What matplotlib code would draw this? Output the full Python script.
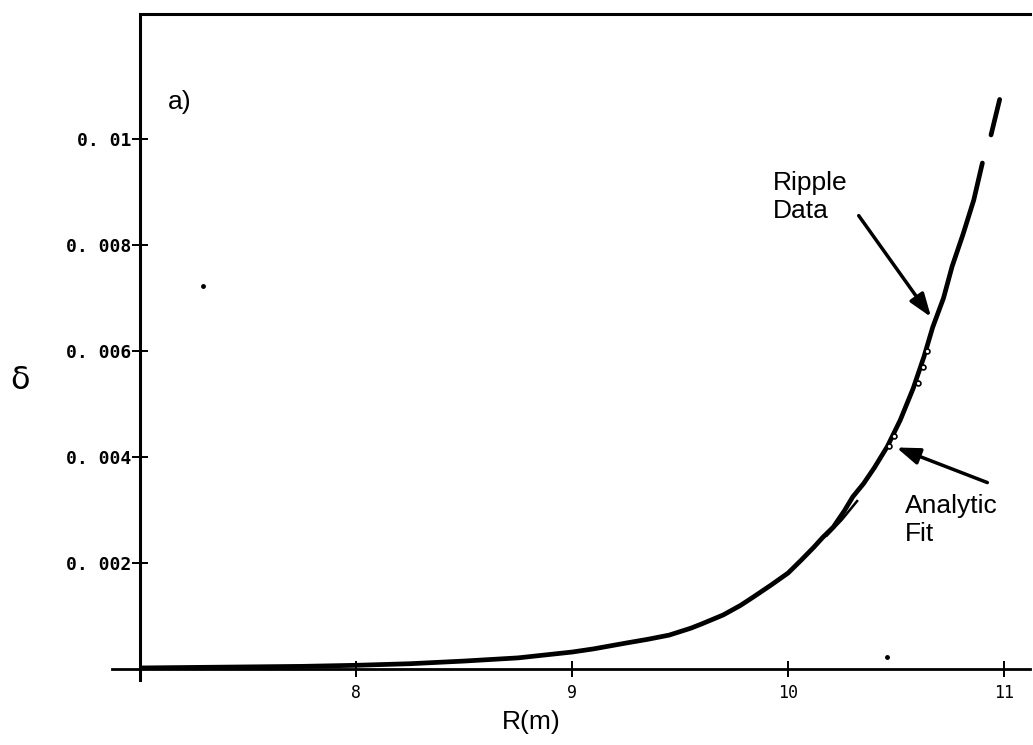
import matplotlib.pyplot as plt
import numpy as np

# ripple data, nan = gap in the trace
r_data = [7.0, 7.25, 7.5, 7.75, 8.0, 8.25, 8.5, 8.75, 9.0, 9.1, 9.25, 9.35, 9.45,
          9.55, 9.6, 9.7, 9.78, 9.84, 9.92, 10.0, 10.06, 10.12, 10.16, 10.21, 10.26,
          10.3, 10.35, 10.4, 10.46, 10.52, 10.58, 10.63, 10.67, 10.72, 10.76, 10.81,
          10.86, 10.9, np.nan, 10.94, 10.98]
d_data = [0.00002, 0.00003, 0.00004, 0.00005, 0.00007, 0.00010, 0.00015, 0.00021,
          0.00032, 0.00038, 0.00049, 0.00056, 0.00064, 0.00077, 0.00085, 0.00102,
          0.0012, 0.00136, 0.00158, 0.00181, 0.00205, 0.0023, 0.00248, 0.00268,
          0.00298, 0.00325, 0.0035, 0.0038, 0.0042, 0.0047, 0.0053, 0.0059, 0.00645,
          0.0070, 0.0076, 0.0082, 0.00885, 0.00955, np.nan, 0.01008, 0.01075]

# analytic fit, visible where it leaves the data trace
r_fit = [10.18, 10.25, 10.32]
d_fit = [0.00252, 0.00282, 0.00317]
r_circ = [10.47, 10.49, 10.6, 10.625, 10.645]
d_circ = [0.0042, 0.0044, 0.0054, 0.0057, 0.0060]

# stray points
r_stray = [7.29, 10.46]
d_stray = [0.00723, 0.00023]

yticks = [0.002, 0.004, 0.006, 0.008, 0.01]
ylabels = ['0. 002', '0. 004', '0. 006', '0. 008', '0. 01']
xticks = [8, 9, 10, 11]

fig = plt.figure(figsize=(10.33, 7.45), dpi=100)
ax = fig.add_axes([0.1355, 0.102, 0.8615, 0.879])

ax.plot(r_data, d_data, color='black', lw=3.4, solid_capstyle='round')
ax.plot(r_fit, d_fit, color='black', lw=1.8)
ax.plot(r_circ, d_circ, 'o', mfc='white', mec='black', ms=3.5, mew=1.2)
ax.plot(r_stray, d_stray, 'o', color='black', ms=2.5)

ax.set_xlim(7.0, 11.12)
ax.set_ylim(0, 0.01236)

# bottom axis line runs a little past the left spine
ax.plot([6.87, 11.12], [0, 0], color='black', lw=2, clip_on=False)
ax.spines['bottom'].set_visible(False)
ax.spines['right'].set_visible(False)
ax.spines['left'].set_linewidth(2.2)
ax.spines['top'].set_linewidth(2.2)
ax.spines['left'].set_bounds(-0.0002, 0.0123)

ax.set_xticks(xticks)
ax.set_xticklabels([str(t) for t in xticks], family='DejaVu Sans Mono', fontsize=12)
ax.set_yticks(yticks)
ax.set_yticklabels(ylabels, family='DejaVu Sans Mono', fontsize=13, fontweight='bold')
ax.tick_params(axis='both', direction='inout', length=11, width=1.4)
ax.tick_params(axis='y', pad=1)
ax.tick_params(axis='x', pad=5)

ax.set_xlabel('R(m)', fontsize=19, family='Liberation Sans', va='center')
ax.xaxis.set_label_coords(0.44, -0.081)
ax.set_ylabel('δ', fontsize=23, family='DejaVu Sans', rotation=0, va='center', ha='center')
ax.yaxis.set_label_coords(-0.135, 0.44)

ax.text(7.13, 0.0107, 'a)', fontsize=19, family='Liberation Sans', va='center')
ax.text(9.93, 0.0094, 'Ripple\nData', fontsize=19, family='Liberation Sans',
        linespacing=1.2, va='top')
ax.text(10.54, 0.0033, 'Analytic\nFit', fontsize=19, family='Liberation Sans',
        linespacing=1.2, va='top')

ax.annotate('', xy=(10.67, 0.0066), xytext=(10.32, 0.0086),
            arrowprops=dict(arrowstyle='-|>,head_length=1.4,head_width=0.5',
                            color='black', lw=2.5))
ax.annotate('', xy=(10.49, 0.0042), xytext=(10.935, 0.0035),
            arrowprops=dict(arrowstyle='-|>,head_length=1.4,head_width=0.5',
                            color='black', lw=2.5))

fig.savefig('out.png', dpi=100)
